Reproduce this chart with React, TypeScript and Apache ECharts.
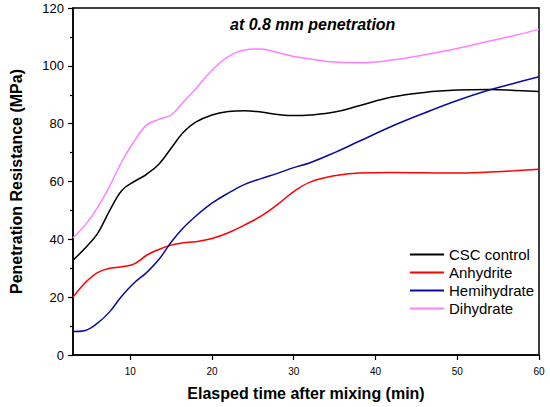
import React, { useEffect, useRef } from "react";
import * as echarts from "echarts";

const times = [3, 4.5, 6, 7.5, 9, 10.5, 12, 13.5, 15, 16.5, 18, 20, 22, 24, 26, 28, 30, 32, 35, 38, 42, 46, 50, 54, 57, 60];
const cscControl = [32.8, 37, 42, 50, 57, 60, 62.5, 66, 71.5, 77, 80.5, 83, 84.2, 84.5, 84, 83.2, 82.8, 83, 84, 86.2, 89.2, 90.8, 91.6, 91.8, 91.5, 91.1];
const anhydrite = [20, 25, 28.5, 30, 30.5, 31.5, 34.5, 36.5, 38, 38.8, 39.2, 40.3, 42.3, 45, 48, 52, 56.5, 59.8, 62, 62.9, 63.1, 63, 62.9, 63.3, 63.7, 64.2];
const hemihydrate = [8.1, 8.5, 11, 15, 20.5, 25, 28.5, 33, 39, 44, 48, 52.5, 56, 59, 61, 62.8, 64.8, 66.5, 70, 73.9, 79.1, 83.7, 88, 91.7, 94, 96.2];
const dihydrate = [40.5, 45, 51, 58.5, 67, 74, 79.5, 81.5, 83, 87.5, 92, 98.5, 103.2, 105.5, 105.8, 104.6, 103.2, 102.4, 101.3, 101.1, 102, 103.8, 106, 108.6, 110.5, 112.6];
const seriesNames = ["CSC control", "Anhydrite", "Hemihydrate", "Dihydrate"];
const seriesColors = ["#000000", "#ff0000", "#0a0a9e", "#ff80ff"];
const xTicks = [10, 20, 30, 40, 50, 60];

export default function App() {
  const ref = useRef<HTMLDivElement>(null);
  useEffect(() => {
    document.body.style.margin = "0";
    if (!ref.current) return;
    const chart = echarts.init(ref.current, undefined, { renderer: "svg" });
    const all = [cscControl, anhydrite, hemihydrate, dihydrate];
    const font = "Liberation Sans, Arial, sans-serif";
    chart.setOption({
      animation: false,
      backgroundColor: "#ffffff",
      title: {
        text: "at 0.8 mm penetration",
        left: 225,
        top: 11,
        textStyle: { fontFamily: font, fontSize: 16, fontWeight: "bold", fontStyle: "italic", color: "#000" },
      },
      legend: {
        orient: "vertical",
        left: 405,
        top: 242,
        itemWidth: 34,
        itemHeight: 2,
        itemGap: 3,
        icon: "rect",
        data: seriesNames,
        textStyle: { fontFamily: font, fontSize: 15, color: "#000", padding: [0, 0, 0, 0] },
      },
      grid: {
        left: 72,
        right: 11,
        top: 8,
        bottom: 52,
        show: true,
        borderColor: "#000",
        borderWidth: 1.5,
        containLabel: false,
      },
      xAxis: {
        type: "value",
        min: 3,
        max: 60,
        name: "Elasped time after mixing (min)",
        nameLocation: "middle",
        nameGap: 30,
        nameTextStyle: { fontFamily: font, fontSize: 16, fontWeight: "bold", color: "#000" },
        axisLine: { show: true, lineStyle: { color: "#000", width: 1.5 } },
        axisTick: { show: true, inside: false, length: 5, customValues: xTicks, lineStyle: { color: "#000", width: 1.2 } },
        axisLabel: { customValues: xTicks, fontFamily: font, fontSize: 10, color: "#000", margin: 11 },
        splitLine: { show: false },
      },
      yAxis: {
        type: "value",
        min: 0,
        max: 120,
        interval: 20,
        name: "Penetration Resistance (MPa)",
        nameLocation: "middle",
        nameGap: 49,
        nameTextStyle: { fontFamily: font, fontSize: 16, fontWeight: "bold", color: "#000" },
        axisLine: { show: true, lineStyle: { color: "#000", width: 1.5 } },
        axisTick: { show: true, inside: false, length: 5, lineStyle: { color: "#000", width: 1.2 } },
        minorTick: { show: true, splitNumber: 2, length: 3, lineStyle: { color: "#000", width: 1.2 } },
        axisLabel: { fontFamily: font, fontSize: 13, color: "#000", margin: 9 },
        splitLine: { show: false },
      },
      series: seriesNames.map((name, i) => ({
        name,
        type: "line",
        smooth: 0.4,
        symbol: "none",
        showSymbol: false,
        lineStyle: { color: seriesColors[i], width: 1.5 },
        itemStyle: { color: seriesColors[i] },
        data: times.map((t, j) => [t, all[i][j]]),
      })),
    });
    return () => chart.dispose();
  }, []);
  return <div ref={ref} style={{ width: 550, height: 407 }} />;
}
